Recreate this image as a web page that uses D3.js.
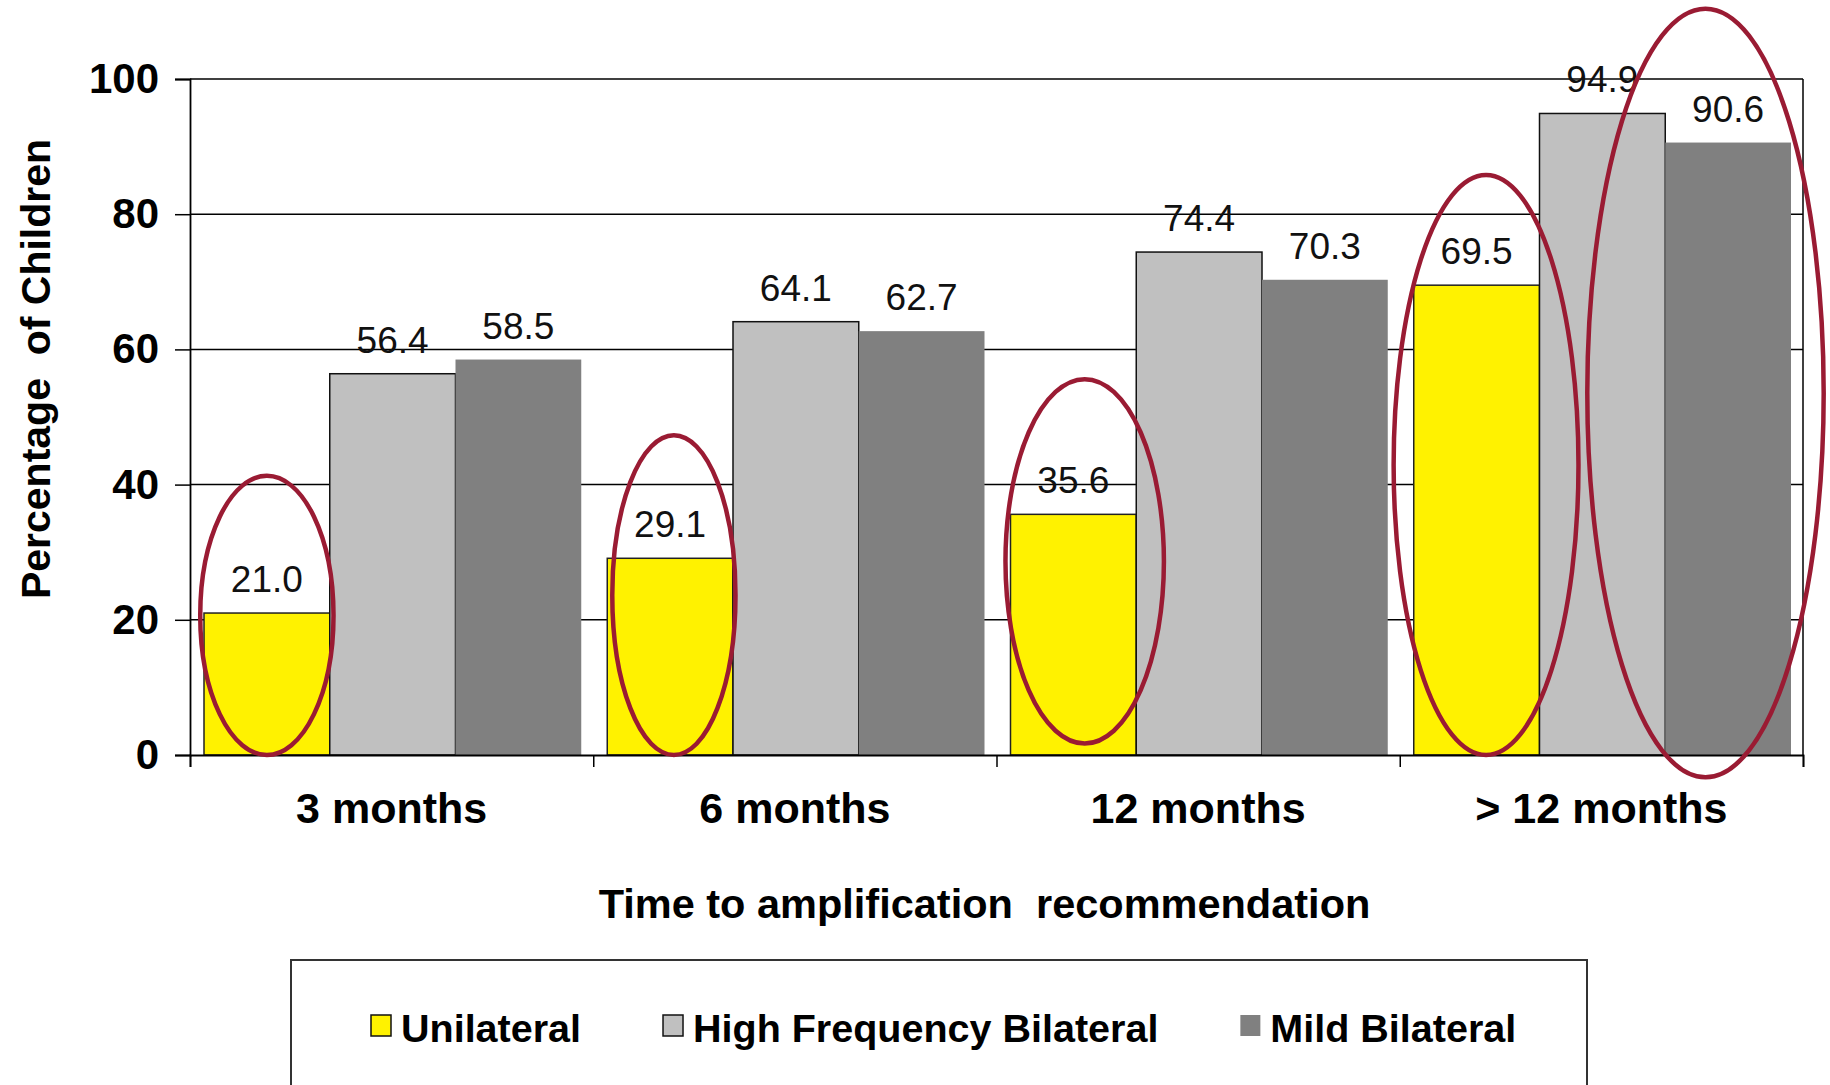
<!DOCTYPE html>
<html>
<head>
<meta charset="utf-8">
<script src="https://cdn.jsdelivr.net/npm/d3@7"></script>
<style>
    body { margin: 0; background: #fff; }
    svg { display: block; }
    text { font-family: "Liberation Sans", Arial, sans-serif; }
</style>
</head>
<body>
<svg id="chart" width="1830" height="1085"></svg>
<script>
// chart data
const categories = ["3 months", "6 months", "12 months", "> 12 months"];
const seriesNames = ["Unilateral", "High Frequency Bilateral", "Mild Bilateral"];
const unilateral = [21.0, 29.1, 35.6, 69.5];
const highFreqBilateral = [56.4, 64.1, 74.4, 94.9];
const mildBilateral = [58.5, 62.7, 70.3, 90.6];
const yTicks = [0, 20, 40, 60, 80, 100];

// hand-drawn red ovals: category, slot span inside the group, value span
const ovalCats = [0, 1, 2, 3, 3];
const ovalSlotFrom = [-0.03, 0.04, -0.04, -0.16, 1.38];
const ovalSlotTo = [1.03, 1.02, 1.22, 1.31, 3.26];
const ovalTop = [41.3, 47.3, 55.6, 85.8, 110.4];
const ovalBottom = [0, 0, 1.7, 0, -3.3];

const colors = ["#fff200", "#c0c0c0", "#808080"];
const strokes = ["#222", "#111", "none"];

let svg = d3.select("#chart");
let margin = {top: 79, right: 27, bottom: 330, left: 190};
let width = +svg.attr("width") - margin.left - margin.right;
let height = +svg.attr("height") - margin.top - margin.bottom;

let g = svg.append("g")
    .attr("transform", "translate(" + margin.left + "," + margin.top + ")");

let x = d3.scaleBand().domain(d3.range(categories.length)).range([0, width]);
let slot = d3.scaleLinear().domain([0, 3]).range([14, x.bandwidth() - 12]);
let y = d3.scaleLinear().domain([0, 100]).range([height, 0]);

let series = [unilateral, highFreqBilateral, mildBilateral];

// gridlines
g.append("g")
    .selectAll("line")
    .data(yTicks.filter(d => d > 0))
    .enter()
    .append("line")
    .attr("x1", 0)
    .attr("x2", width)
    .attr("y1", d => y(d))
    .attr("y2", d => y(d))
    .attr("stroke", "#000")
    .attr("stroke-width", 1.5);

// right frame
g.append("line")
    .attr("x1", width).attr("x2", width)
    .attr("y1", 0).attr("y2", height)
    .attr("stroke", "#000").attr("stroke-width", 1.5);

// bars
series.forEach((vals, s) => {
    g.append("g")
        .selectAll("rect")
        .data(vals)
        .enter()
        .append("rect")
        .attr("x", (d, i) => x(i) + slot(s))
        .attr("y", d => y(d))
        .attr("width", slot(1) - slot(0))
        .attr("height", d => height - y(d))
        .attr("fill", colors[s])
        .attr("stroke", strokes[s])
        .attr("stroke-width", 1.5);

    g.append("g")
        .selectAll("text")
        .data(vals)
        .enter()
        .append("text")
        .attr("x", (d, i) => x(i) + (slot(s) + slot(s + 1)) / 2)
        .attr("y", d => y(d) - 21)
        .attr("text-anchor", "middle")
        .attr("font-size", 37)
        .attr("fill", "#111")
        .text(d => d.toFixed(1));
});

// y axis
let yAxis = g.append("g")
    .call(d3.axisLeft(y).tickValues(yTicks).tickSize(15).tickPadding(16));
yAxis.select(".domain").attr("stroke", "#000").attr("stroke-width", 1.8);
yAxis.selectAll(".tick line").attr("stroke", "#000").attr("stroke-width", 1.5);
yAxis.selectAll(".tick text")
    .attr("font-size", 42)
    .attr("font-weight", "bold")
    .attr("fill", "#000")
    .style("font-family", "'Liberation Sans', Arial, sans-serif");

// x axis: ticks at category boundaries
let edges = d3.scaleLinear().domain([0, categories.length]).range([0, width]);
let xAxis = g.append("g")
    .attr("transform", "translate(0," + height + ")")
    .call(d3.axisBottom(edges).ticks(categories.length).tickSize(12).tickFormat(""));
xAxis.select(".domain").attr("stroke", "#000").attr("stroke-width", 1.8);
xAxis.selectAll(".tick line").attr("stroke", "#000").attr("stroke-width", 1.5);

g.append("g")
    .selectAll("text")
    .data(categories)
    .enter()
    .append("text")
    .attr("x", (d, i) => x(i) + x.bandwidth() / 2)
    .attr("y", height + 68)
    .attr("text-anchor", "middle")
    .attr("font-size", 43)
    .attr("font-weight", "bold")
    .text(d => d);

// axis titles
svg.append("text")
    .attr("x", margin.left + width / 2 - 12)
    .attr("y", 918)
    .attr("text-anchor", "middle")
    .attr("font-size", 41.5)
    .attr("font-weight", "bold")
    .attr("xml:space", "preserve")
    .text("Time to amplification  recommendation");

svg.append("text")
    .attr("transform", "translate(50," + (margin.top + 290) + ") rotate(-90)")
    .attr("text-anchor", "middle")
    .attr("font-size", 41)
    .attr("font-weight", "bold")
    .attr("xml:space", "preserve")
    .text("Percentage  of Children");

// ovals
let ovals = g.append("g");
ovalCats.forEach((c, k) => {
    let x0 = x(c) + slot(ovalSlotFrom[k]);
    let x1 = x(c) + slot(ovalSlotTo[k]);
    let y0 = y(ovalTop[k]);
    let y1 = y(ovalBottom[k]);
    ovals.append("ellipse")
        .attr("cx", (x0 + x1) / 2)
        .attr("cy", (y0 + y1) / 2)
        .attr("rx", (x1 - x0) / 2)
        .attr("ry", (y1 - y0) / 2)
        .attr("fill", "none")
        .attr("stroke", "#9a1b33")
        .attr("stroke-width", 4.5);
});

// legend
svg.append("rect")
    .attr("x", 291)
    .attr("y", 960)
    .attr("width", 1296)
    .attr("height", 160)
    .attr("fill", "none")
    .attr("stroke", "#333")
    .attr("stroke-width", 2);

let lx = 371;
seriesNames.forEach((name, s) => {
    let item = svg.append("g").attr("transform", "translate(" + lx + ",1015)");
    item.append("rect")
        .attr("width", 20)
        .attr("height", 21)
        .attr("fill", colors[s])
        .attr("stroke", strokes[s] === "none" ? "none" : "#111")
        .attr("stroke-width", 1.5);
    let t = item.append("text")
        .attr("x", 30)
        .attr("y", 27)
        .attr("font-size", 39.5)
        .attr("font-weight", "bold")
        .text(name);
    lx += 30 + t.node().getComputedTextLength() + 82;
});
</script>
</body>
</html>
